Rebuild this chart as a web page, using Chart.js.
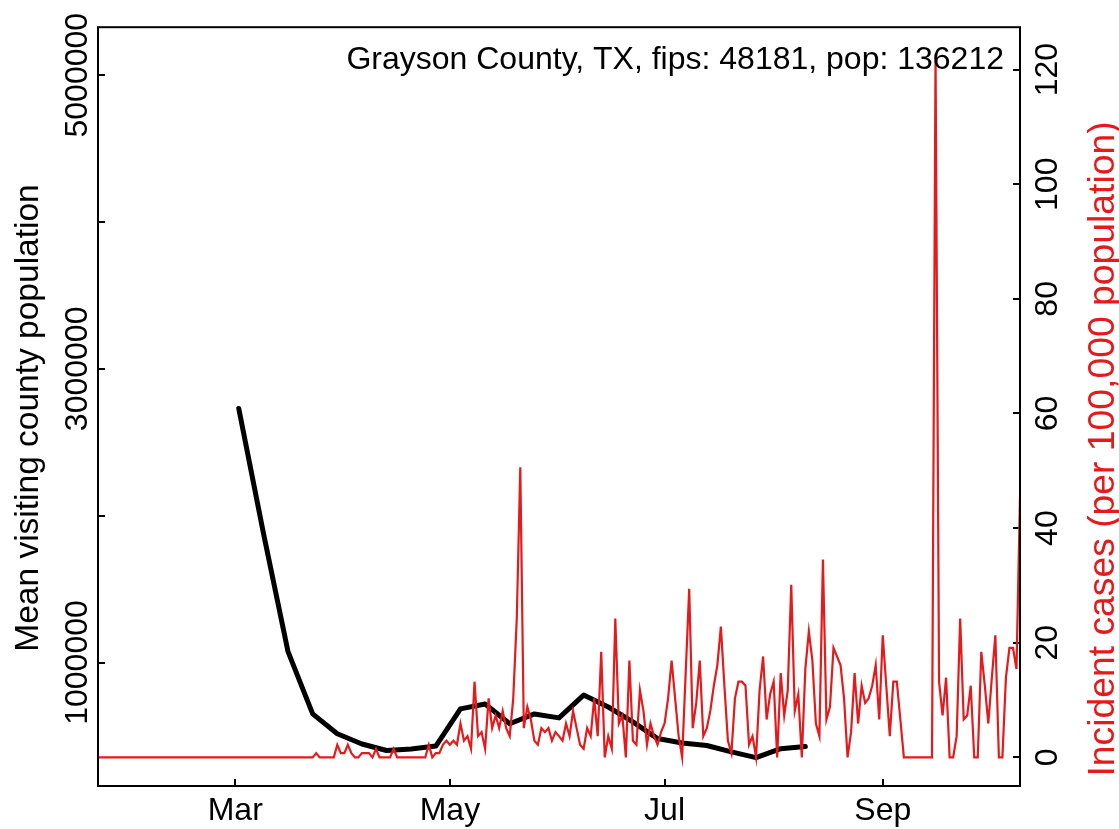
<!DOCTYPE html>
<html>
<head>
<meta charset="utf-8">
<script src="https://cdn.jsdelivr.net/npm/chart.js@4.4.1/dist/chart.umd.min.js"></script>
<style>
  html, body { margin: 0; padding: 0; background: #fff; }
  #wrap { width: 1119px; height: 829px; position: relative; }
</style>
</head>
<body>
<div id="wrap"><canvas id="myChart"></canvas></div>
<script>
// dates are counted in days from this origin
const originDate = "2020-01-22";

// daily incident cases per 100,000, from Jan 22
const caseStart = "2020-01-22";
const incidentCases = [
    0, 0, 0, 0, 0, 0, 0, 0, 0, 0,
    0, 0, 0, 0, 0, 0, 0, 0, 0, 0,
    0, 0, 0, 0, 0, 0, 0, 0, 0, 0,
    0, 0, 0, 0, 0, 0, 0, 0, 0, 0,
    0, 0, 0, 0, 0, 0, 0, 0, 0, 0,
    0, 0, 0, 0, 0, 0, 0, 0, 0, 0,
    0, 0, 0.73, 0, 0, 0, 0, 0, 2.2, 0.73,
    0.73, 2.2, 0.73, 0, 0, 0.73, 0.73, 0.73, 0, 1.47,
    0, 0, 0, 0, 1.47, 0, 0, 0, 0, 0,
    0, 0, 0, 0, 2.2, 0, 0.73, 0.73, 2.2, 2.9,
    2.2, 2.9, 2.2, 5.9, 2.9, 3.7, 1.5, 13.2, 3.7, 4.4,
    1.5, 10.3, 5.1, 7.3, 5.1, 8.1, 5.1, 3.7, 10.3, 24.2,
    50.6, 5.1, 8.8, 6.6, 2.9, 2.2, 5.1, 4.4, 5.1, 2.9,
    4.4, 3.7, 2.9, 5.9, 3.7, 8.1, 5.1, 2.2, 1.5, 5.1,
    3.7, 10.3, 3.7, 18.4, 0, 3.7, 1.5, 24.2, 5.9, 7.3,
    0, 16.9, 2.9, 2.2, 11.7, 8.1, 2.2, 5.9, 3.7, 2.2,
    4.4, 5.9, 10.3, 16.9, 10.3, 3.7, 0, 14.7, 29.4, 5.1,
    9.5, 16.9, 3.7, 5.1, 8.1, 12.5, 16.1, 22.8, 12.5, 2.9,
    0.73, 10.3, 13.2, 13.2, 12.5, 2.2, 3.7, 0, 11.7, 17.6,
    6.6, 11.0, 13.2, 0, 14.7, 7.3, 11.7, 30.1, 8.1, 11.0,
    0, 15.4, 22.0, 16.9, 5.9, 3.7, 34.5, 6.6, 8.8, 19.1,
    17.6, 16.1, 10.3, 0, 4.4, 14.7, 5.9, 12.5, 9.5, 10.3,
    12.5, 16.1, 6.6, 21.3, 12.5, 3.7, 13.2, 13.2, 6.6, 0,
    0, 0, 0, 0, 0, 0, 0, 0, 122.6, 13.2,
    7.3, 13.9, 0, 0, 3.7, 24.2, 6.6, 7.3, 12.5, 0,
    0, 18.4, 12.5, 5.9, 13.9, 21.3, 0, 0, 13.9, 19.1,
    19.1, 15.4, 45.5
];

// weekly mean visiting county population
const visitDates = [
    "2020-03-02", "2020-03-09", "2020-03-16", "2020-03-23", "2020-03-30",
    "2020-04-06", "2020-04-13", "2020-04-20", "2020-04-27", "2020-05-04",
    "2020-05-11", "2020-05-18", "2020-05-25", "2020-06-01", "2020-06-08",
    "2020-06-15", "2020-06-22", "2020-06-29", "2020-07-06", "2020-07-13",
    "2020-07-20", "2020-07-27", "2020-08-03", "2020-08-10"
];
const visitPop = [
    2730000, 1882000, 1074000, 650000, 515000,
    445000, 401000, 411000, 431000, 684000,
    717000, 583000, 650000, 623000, 778000,
    697000, 596000, 482000, 452000, 435000,
    391000, 352000, 413000, 428000
];

// axes
const monthTicks = ["2020-03-01", "2020-05-01", "2020-07-01", "2020-09-01"];
const monthLabels = ["Mar", "May", "Jul", "Sep"];
const popTicks = [1000000, 2000000, 3000000, 4000000, 5000000];
const popLabels = ["1000000", "", "3000000", "", "5000000"];
const caseTicks = [0, 20, 40, 60, 80, 100, 120];

const countyLabel = "Grayson County, TX, fips: 48181, pop: 136212";
const leftTitle = "Mean visiting county population";
const rightTitle = "Incident cases (per 100,000 population)";

const RED = "#e41a1c";
const FONT = "'Liberation Sans', Arial, Helvetica, sans-serif";

function dayOf(d) {
    return (Date.parse(d) - Date.parse(originDate)) / 86400000;
}

const firstDay = dayOf(caseStart);
const caseData = incidentCases.map((v, i) => ({ x: firstDay + i, y: v }));
const visitData = visitDates.map((d, i) => ({ x: dayOf(d), y: visitPop[i] }));

// box round the plot, titles and the county label
const extras = {
    id: "extras",
    afterDraw(chart) {
        const ctx = chart.ctx;
        const a = chart.chartArea;
        ctx.save();
        ctx.strokeStyle = "#000";
        ctx.lineWidth = 2;
        ctx.strokeRect(a.left, a.top, a.right - a.left, a.bottom - a.top);

        ctx.fillStyle = "#000";
        ctx.font = "32px " + FONT;
        ctx.textAlign = "right";
        ctx.textBaseline = "alphabetic";
        ctx.fillText(countyLabel, 1004, 68.5);

        ctx.translate(38, 418);
        ctx.rotate(-Math.PI / 2);
        ctx.textAlign = "center";
        ctx.font = "33.5px " + FONT;
        ctx.fillText(leftTitle, 0, 0);
        ctx.restore();

        ctx.save();
        ctx.translate(1114, 449);
        ctx.rotate(-Math.PI / 2);
        ctx.fillStyle = RED;
        ctx.font = "37.3px " + FONT;
        ctx.textAlign = "center";
        ctx.textBaseline = "alphabetic";
        ctx.fillText(rightTitle, 0, 0);
        ctx.restore();
    }
};

const tickGrid = {
    display: true,
    drawOnChartArea: false,
    drawTicks: true,
    tickLength: -7,
    color: "#000",
    lineWidth: 2
};

const ctx = document.getElementById("myChart").getContext("2d");
new Chart(ctx, {
    type: "line",
    data: {
        datasets: [
            {
                label: "cases",
                data: caseData,
                yAxisID: "y1",
                borderColor: RED,
                borderWidth: 2.2,
                pointRadius: 0,
                tension: 0
            },
            {
                label: "visiting",
                data: visitData,
                yAxisID: "y",
                borderColor: "#000",
                borderWidth: 5,
                borderCapStyle: "round",
                borderJoinStyle: "round",
                pointRadius: 0,
                tension: 0
            }
        ]
    },
    options: {
        responsive: true,
        maintainAspectRatio: false,
        animation: false,
        devicePixelRatio: 1,
        layout: { padding: { top: 18, left: 0, right: 0, bottom: 0 } },
        plugins: { legend: { display: false }, tooltip: { enabled: false } },
        scales: {
            x: {
                type: "linear",
                min: firstDay,
                max: firstDay + incidentCases.length - 1,
                grid: tickGrid,
                border: { display: false },
                afterBuildTicks: s => { s.ticks = monthTicks.map(d => ({ value: dayOf(d) })); },
                afterFit: s => { s.height = 43; },
                ticks: {
                    autoSkip: false,
                    maxRotation: 0,
                    minRotation: 0,
                    padding: 13,
                    color: "#000",
                    font: { family: FONT, size: 32 },
                    callback: (v, i) => monthLabels[i]
                }
            },
            y: {
                type: "linear",
                position: "left",
                min: 159000,
                max: 5327000,
                grid: tickGrid,
                border: { display: false },
                afterBuildTicks: s => { s.ticks = popTicks.map(v => ({ value: v })); },
                afterFit: s => { s.width = 98; },
                ticks: {
                    autoSkip: false,
                    minRotation: 90,
                    maxRotation: 90,
                    crossAlign: "center",
                    padding: -35,
                    color: "#000",
                    font: { family: FONT, size: 32 },
                    callback: (v, i) => popLabels[i]
                }
            },
            y1: {
                type: "linear",
                position: "right",
                min: -5.0,
                max: 127.4,
                grid: tickGrid,
                border: { display: false },
                afterBuildTicks: s => { s.ticks = caseTicks.map(v => ({ value: v })); },
                afterFit: s => { s.width = 99; },
                ticks: {
                    autoSkip: false,
                    minRotation: 90,
                    maxRotation: 90,
                    crossAlign: "center",
                    padding: 8,
                    color: "#000",
                    font: { family: FONT, size: 32 },
                    callback: v => String(v)
                }
            }
        }
    },
    plugins: [extras]
});
</script>
</body>
</html>
